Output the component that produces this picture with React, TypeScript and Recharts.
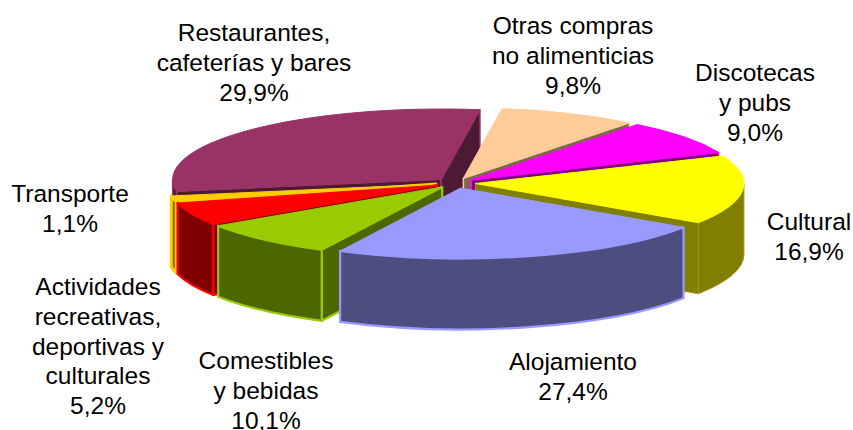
import { PieChart, Pie } from "recharts";

const categories = [
  "Otras compras no alimenticias",
  "Discotecas y pubs",
  "Cultural",
  "Alojamiento",
  "Comestibles y bebidas",
  "Actividades recreativas, deportivas y culturales",
  "Transporte",
  "Restaurantes, cafeterías y bares",
];
// slice sizes as measured on the picture; the printed percentages add up to 109.4
// and do not match the drawn angles, so they are kept separately as text
const values = [8.3, 8.0, 15.8, 23.0, 8.3, 5.2, 1.4, 30.0];
const valueLabels = ["9,8%", "9,0%", "16,9%", "27,4%", "10,1%", "5,2%", "1,1%", "29,9%"];
const labelLines = [
  ["Otras compras", "no alimenticias"],
  ["Discotecas", "y pubs"],
  ["Cultural"],
  ["Alojamiento"],
  ["Comestibles", "y bebidas"],
  ["Actividades", "recreativas,", "deportivas y", "culturales"],
  ["Transporte"],
  ["Restaurantes,", "cafeterías y bares"],
];
const topColors = ["#FFCC99", "#FF00FF", "#FFFF00", "#9999FF", "#99CC00", "#FF0000", "#FFCC00", "#993366"];
const sideColors = ["#806650", "#800080", "#808000", "#4D4D80", "#4D6600", "#800000", "#806600", "#4D1A33"];
const edgeColors = ["#FFCC99", "#FF00FF", "#A89020", "#9999FF", "#99CC00", "#FF0000", "#FFCC00", "#993366"];
const edgeWidths = [1.5, 1.5, 1, 2.2, 2.2, 2.2, 3, 1.5];

// back-to-front, the slices overlap like a real 3D pie
const paintOrder = [7, 0, 1, 2, 6, 5, 4, 3];
// centre x and first baseline of each label
const labelX = [573, 755, 809, 573, 266, 98, 70, 254];
const labelY = [34, 81, 230, 370, 369, 295, 202, 41];
const LINE_HEIGHT = 29.8;

const chartData = categories.map((name, i) => ({ name, value: values[i] }));

const TILT = 0.262;
const DEPTH = 71;
const EXPLODE = 20;
const ROTATION = 8.3;

const rad = (d: number) => (d * Math.PI) / 180;

const SliceShape = (props: any) => {
  const { cx, cy, outerRadius: r, startAngle, endAngle, index } = props;
  // clockwise degrees from the back of the pie
  const a0 = 90 - startAngle;
  const a1 = 90 - endAngle;
  const mid = rad((a0 + a1) / 2);
  const ox = cx + Math.sin(mid) * EXPLODE;
  const oy = cy - Math.cos(mid) * EXPLODE * TILT;
  const px = (a: number) => ox + Math.sin(rad(a)) * r;
  const py = (a: number) => oy - Math.cos(rad(a)) * r * TILT;
  const ry = r * TILT;
  const top = topColors[index];
  const common = {
    fill: sideColors[index],
    stroke: edgeColors[index],
    strokeWidth: edgeWidths[index],
    strokeLinejoin: "round" as const,
  };

  const wall = (a: number) =>
    `M${ox},${oy} L${px(a)},${py(a)} L${px(a)},${py(a) + DEPTH} L${ox},${oy + DEPTH} Z`;
  const showStart = Math.sin(rad(a0)) < 0;
  const showEnd = Math.sin(rad(a1)) > 0;

  const rimFrom = Math.max(a0, 90);
  const rimTo = Math.min(a1, 270);
  const rim =
    rimFrom < rimTo
      ? `M${px(rimFrom)},${py(rimFrom)} A${r},${ry} 0 0 1 ${px(rimTo)},${py(rimTo)} ` +
        `L${px(rimTo)},${py(rimTo) + DEPTH} A${r},${ry} 0 0 0 ${px(rimFrom)},${py(rimFrom) + DEPTH} Z`
      : null;

  const large = a1 - a0 > 180 ? 1 : 0;
  const face = `M${ox},${oy} L${px(a0)},${py(a0)} A${r},${ry} 0 ${large} 1 ${px(a1)},${py(a1)} Z`;

  return (
    <g>
      {showStart && <path d={wall(a0)} {...common} />}
      {showEnd && <path d={wall(a1)} {...common} />}
      {rim && <path d={rim} {...common} />}
      <path d={face} fill={top} stroke={top} strokeWidth={1} strokeLinejoin="round" />
    </g>
  );
};

const renderLabel = (props: any) => {
  const i = props.index;
  const lines = [...labelLines[i], valueLabels[i]];
  return (
    <text
      key={i}
      x={labelX[i]}
      y={labelY[i]}
      textAnchor="middle"
      fontFamily="'Liberation Sans', Arial, sans-serif"
      fontSize={24.5}
      fill="#000000"
    >
      {lines.map((line, n) => (
        <tspan key={n} x={labelX[i]} y={labelY[i] + n * LINE_HEIGHT}>
          {line}
        </tspan>
      ))}
    </text>
  );
};

export default function App() {
  return (
    <div style={{ position: "absolute", left: 0, top: 0 }}>
      <PieChart width={853} height={430} margin={{ top: 0, right: 0, bottom: 0, left: 0 }}>
        {paintOrder.map((idx, layer) => (
          <Pie
            key={idx}
            data={chartData}
            dataKey="value"
            nameKey="name"
            cx={455.5}
            cy={183}
            innerRadius={0}
            outerRadius={268.5}
            startAngle={90 - ROTATION}
            endAngle={90 - ROTATION - 360}
            paddingAngle={0}
            stroke="none"
            isAnimationActive={false}
            labelLine={false}
            label={layer === paintOrder.length - 1 ? renderLabel : false}
            shape={(p: any) => (p.index === idx ? <SliceShape {...p} /> : <g />)}
          />
        ))}
      </PieChart>
    </div>
  );
}
